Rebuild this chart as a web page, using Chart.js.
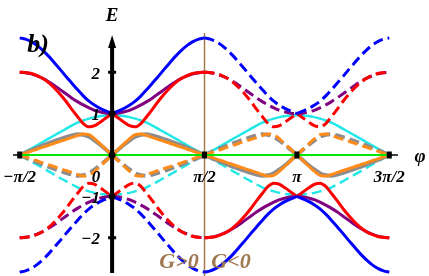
<!DOCTYPE html>
<html>
<head>
<meta charset="utf-8">
<script src="https://cdn.jsdelivr.net/npm/chart.js@4"></script>
<style>
  html, body { margin: 0; padding: 0; background: #fff; }
  #wrap { width: 429px; height: 276px; }
</style>
</head>
<body>
<div id="wrap"><canvas id="bands" width="429" height="276"></canvas></div>
<script>
// phase grid for a quarter period, in units of pi/2 (0 -> 1)
let phiHalf = [0, 0.0625, 0.125, 0.1875, 0.25, 0.3125, 0.375, 0.4375, 0.5,
               0.5625, 0.625, 0.6875, 0.75, 0.8125, 0.875, 0.9375, 1]

// upper branch of each band (same order as phiHalf)
let blueBand   = [1.0, 1.06, 1.12, 1.2, 1.3, 1.43, 1.58, 1.74, 1.9,
                  2.07, 2.23, 2.39, 2.53, 2.65, 2.74, 2.8, 2.83]
let purpleBand = [1.0, 1.01, 1.04, 1.08, 1.14, 1.21, 1.29, 1.38, 1.48,
                  1.58, 1.68, 1.77, 1.85, 1.91, 1.96, 1.99, 2.0]
let redBand    = [1.0, 0.9, 0.8, 0.71, 0.68, 0.76, 0.93, 1.11, 1.3,
                  1.47, 1.62, 1.75, 1.85, 1.92, 1.97, 1.99, 2.0]
let cyanBand   = [0.96, 0.955, 0.94, 0.915, 0.88, 0.835, 0.78, 0.71, 0.63,
                  0.555, 0.475, 0.395, 0.315, 0.235, 0.155, 0.077, 0]
let grayBand   = [0, 0.12, 0.24, 0.35, 0.44, 0.49, 0.5, 0.47, 0.43,
                  0.385, 0.335, 0.285, 0.23, 0.175, 0.12, 0.06, 0]
let orangeBand = [0, 0.13, 0.26, 0.39, 0.49, 0.51, 0.47, 0.42, 0.375,
                  0.33, 0.285, 0.235, 0.19, 0.14, 0.095, 0.045, 0]

// axis ticks (x in units of pi/2)
let xTickValues = [-1, 0, 1, 2, 3]
let xTickLabels = ['\u2212\u03c0/2', '0', '\u03c0/2', '\u03c0', '3\u03c0/2']
let yTickValues = [-2, -1, 1, 2]
let yTickLabels = ['\u22122', '\u22121', '1', '2']
let zeroLine = [-1, 3]

// each quarter of the range: where it is mirrored from and which sign is drawn solid
let quarters = [
    {center: 0, dir: -1, solidSign: 1},
    {center: 0, dir: 1, solidSign: 1},
    {center: 2, dir: -1, solidSign: -1},
    {center: 2, dir: 1, solidSign: -1}
]

let bands = [
    {values: blueBand, color: '#0000ff', width: 3, order: 1, flips: true},
    {values: redBand, color: '#ff0000', width: 3, order: 2, flips: true},
    {values: purpleBand, color: '#800080', width: 3, order: 3, flips: true},
    {values: orangeBand, color: '#ff8c1a', width: 3, order: 5, flips: true},
    {values: grayBand, color: '#8c8c8c', width: 4, order: 6, flips: true},
    {values: cyanBand, color: '#22e8e8', width: 2.5, order: 7, flips: false}
]

let datasets = []
for (let b = 0; b < bands.length; b++) {
    let band = bands[b]
    for (let q = 0; q < quarters.length; q++) {
        let quarter = quarters[q]
        let sign = band.flips ? quarter.solidSign : 1
        let upper = []
        let lower = []
        for (let i = 0; i < phiHalf.length; i++) {
            let x = quarter.center + quarter.dir * phiHalf[i]
            upper.push({x: x, y: sign * band.values[i]})
            lower.push({x: x, y: -sign * band.values[i]})
        }
        upper.sort((a, c) => a.x - c.x)
        lower.sort((a, c) => a.x - c.x)
        datasets.push({data: upper, borderColor: band.color, borderWidth: band.width, order: band.order})
        datasets.push({data: lower, borderColor: band.color, borderWidth: band.width, order: band.order, borderDash: [10, 5]})
    }
}
// the flat band at E = 0
datasets.push({
    data: zeroLine.map(x => ({x: x, y: 0})),
    borderColor: '#00e600', borderWidth: 2, order: 0
})

let serif = '"Liberation Serif", "DejaVu Serif", serif'

// axes, markers and text drawn around the curves
let axisDecor = {
    id: 'axisDecor',
    beforeDatasetsDraw(chart) {
        let ctx = chart.ctx
        let xs = chart.scales.x, ys = chart.scales.y
        let y0 = ys.getPixelForValue(0)
        let xb = xs.getPixelForValue(1)
        ctx.save()
        ctx.strokeStyle = '#a57a4c'
        ctx.lineWidth = 1.5
        ctx.beginPath()
        ctx.moveTo(xb, 33)
        ctx.lineTo(xb, 276)
        ctx.stroke()
        ctx.strokeStyle = '#000'
        ctx.lineWidth = 1.5
        ctx.beginPath()
        ctx.moveTo(13, y0)
        ctx.lineTo(398, y0)
        ctx.stroke()
        ctx.restore()
    },
    afterDatasetsDraw(chart) {
        let ctx = chart.ctx
        let xs = chart.scales.x, ys = chart.scales.y
        let x0 = xs.getPixelForValue(0), y0 = ys.getPixelForValue(0)
        ctx.save()
        ctx.fillStyle = '#000'
        ctx.strokeStyle = '#000'

        // vertical axis with arrow
        ctx.lineWidth = 4
        ctx.beginPath()
        ctx.moveTo(x0, 273)
        ctx.lineTo(x0, 45)
        ctx.stroke()
        ctx.beginPath()
        ctx.moveTo(x0 - 4, 48)
        ctx.lineTo(x0 + 4, 48)
        ctx.lineTo(x0, 35)
        ctx.closePath()
        ctx.fill()

        // ticks at +-2, dots at 0, +-1
        for (let i = 0; i < yTickValues.length; i++) {
            let py = ys.getPixelForValue(yTickValues[i])
            if (Math.abs(yTickValues[i]) === 1) {
                ctx.beginPath()
                ctx.arc(x0, py, 3.5, 0, Math.PI * 2)
                ctx.fill()
            } else {
                ctx.fillRect(x0 - 4, py - 1.5, 8, 3)
            }
        }
        ctx.beginPath()
        ctx.arc(x0, y0, 3.5, 0, Math.PI * 2)
        ctx.fill()

        // square marks on the phase axis
        for (let i = 0; i < xTickValues.length; i++) {
            if (xTickValues[i] === 0) continue
            let px = xs.getPixelForValue(xTickValues[i])
            ctx.fillRect(px - 2.5, y0 - 3.5, 5, 7)
        }

        // tick labels
        ctx.font = 'bold italic 17px ' + serif
        ctx.textAlign = 'center'
        ctx.textBaseline = 'alphabetic'
        for (let i = 0; i < xTickValues.length; i++) {
            let px = xs.getPixelForValue(xTickValues[i])
            if (xTickValues[i] === 0) px -= 16
            ctx.fillText(xTickLabels[i], px, 182)
        }
        ctx.textAlign = 'right'
        ctx.textBaseline = 'middle'
        for (let i = 0; i < yTickValues.length; i++) {
            ctx.fillText(yTickLabels[i], x0 - 12, ys.getPixelForValue(yTickValues[i]) + 2)
        }

        // axis names and panel tag
        ctx.textAlign = 'center'
        ctx.font = 'bold italic 19px ' + serif
        ctx.fillText('E', x0, 16)
        ctx.fillText('\u03c6', 420, 157)
        ctx.font = 'bold italic 26px ' + serif
        ctx.fillText('b)', 38, 45)

        // sign of G on each side of the divider
        ctx.fillStyle = '#a07850'
        ctx.font = 'bold italic 22px ' + serif
        ctx.textBaseline = 'alphabetic'
        ctx.fillText('G>0', 179, 268)
        ctx.fillText('G<0', 231, 268)
        ctx.restore()
    }
}

let chart = new Chart(document.querySelector('#bands'), {
    type: 'line',
    data: {datasets: datasets},
    options: {
        responsive: false,
        animation: false,
        devicePixelRatio: 1,
        layout: {padding: {left: 16, right: 36, top: 35, bottom: 1}},
        plugins: {legend: {display: false}, tooltip: {enabled: false}},
        elements: {
            point: {radius: 0},
            line: {cubicInterpolationMode: 'monotone', borderCapStyle: 'butt', fill: false}
        },
        scales: {
            x: {type: 'linear', min: -1.04, max: 3.04, display: false},
            y: {type: 'linear', min: -2.9, max: 2.9, display: false}
        }
    },
    plugins: [axisDecor]
})
</script>
</body>
</html>
